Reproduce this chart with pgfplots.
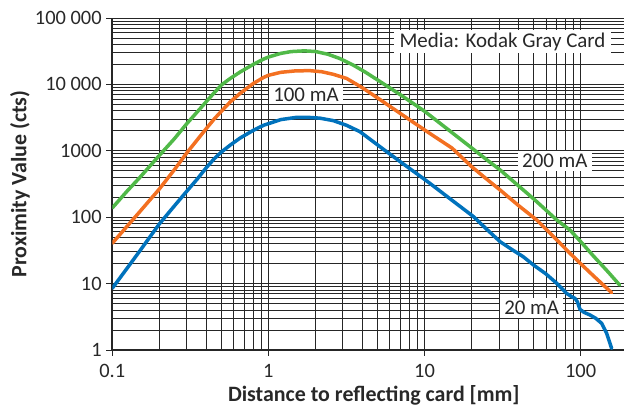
\documentclass[border=0pt]{standalone}
\usepackage{pgfplots}
\pgfplotsset{compat=1.18}
\usepackage{fontspec}
\setmainfont{Carlito}
\definecolor{cgreen}{RGB}{80,185,72}
\definecolor{corange}{RGB}{243,112,33}
\definecolor{cblue}{RGB}{0,114,188}
\definecolor{txt}{RGB}{40,40,40}
\begin{document}
\fontsize{21}{25}\selectfont
\begin{tikzpicture}
\begin{axis}[
  scale only axis,
  width=511.8bp, height=332bp,
  xmode=log, ymode=log,
  xmin=0.1, xmax=190, ymin=1, ymax=100000,
  axis x line=bottom, axis y line=left,
  axis line style={-, line width=1.6bp, black!85},
  xtick={0.1,1,10,100}, xticklabels={0.1,1,10,100},
  ytick={1,10,100,1000,10000,100000},
  yticklabels={1,10,100,1000,10 000,100 000},
  minor xtick={0.2,0.3,0.4,0.5,0.6,0.7,0.8,0.9,2,3,4,5,6,7,8,9,20,30,40,50,60,70,80,90},
  minor ytick={2,3,4,5,6,7,8,9,20,30,40,50,60,70,80,90,200,300,400,500,600,700,800,900,2000,3000,4000,5000,6000,7000,8000,9000,20000,30000,40000,50000,60000,70000,80000,90000},
  grid=both,
  major grid style={line width=0.9bp, black!85},
  minor grid style={line width=0.9bp, black!85},
  tick align=outside,
  major tick length=6bp, minor tick length=0pt,
  tick style={line width=0.9bp, black!85},
  ticklabel style={font=\fontsize{20.5}{24}\selectfont, text=txt},
  yticklabel style={inner sep=0pt, xshift=-4.5bp},
  xticklabel style={inner sep=0pt, yshift=-8bp},
  xlabel={\bfseries Distance to reflecting card [mm]},
  ylabel={\bfseries Proximity Value (cts)},
  every axis x label/.style={at={(axis description cs:0.511,-0.1566)}, anchor=base, text=txt, font=\fontsize{22}{26}\selectfont},
  every axis y label/.style={at={(axis description cs:-0.168,0.5)}, anchor=base, rotate=90, text=txt, font=\fontsize{22}{26}\selectfont},
  every axis plot/.append style={line width=3.5bp, line join=round, line cap=round},
]
\addplot[cgreen] coordinates {
(0.1,138)(0.125,250)(0.15,396)(0.2,850)(0.25,1520)(0.3,2560)(0.35,3850)(0.4,5500)(0.45,7500)(0.5,9800)(0.57,12300)(0.66,15400)(0.8,20000)(0.93,24000)(1.0,25800)(1.2,29300)(1.4,31200)(1.7,32000)(2.0,31300)(2.4,28500)(2.87,24500)(3.5,19500)(4.2,15200)(5.2,11000)(7,7000)(8.5,5130)(10,3950)(12,2830)(15,1880)(20,1110)(25,735)(30.5,515)(40,297)(50,189)(60,128)(70.3,91)(85.5,64)(100,43)(120,26.5)(150,15)(178,9.5)
};
\addplot[corange] coordinates {
(0.1,40.5)(0.125,74)(0.15,121)(0.2,265)(0.25,520)(0.3,930)(0.35,1460)(0.4,2160)(0.45,3020)(0.5,3950)(0.57,5450)(0.66,7350)(0.8,10300)(0.93,12700)(1.0,13700)(1.2,15200)(1.5,16000)(1.85,16100)(2.2,15500)(2.6,14200)(3.17,12300)(4,8900)(5.19,5900)(7,3650)(9.35,2300)(10.8,1830)(15,1100)(20,580)(25,375)(30.5,257)(40,150)(52.3,91)(70,46)(85.5,28.6)(100,20)(120,13.3)(140,9.5)(158,7.3)
};
\addplot[cblue] coordinates {
(0.1,8.5)(0.125,17.3)(0.15,31)(0.2,79)(0.25,148)(0.3,246)(0.35,375)(0.4,556)(0.45,760)(0.5,960)(0.57,1220)(0.66,1560)(0.8,2030)(0.93,2420)(1.2,2950)(1.5,3180)(1.76,3200)(2.14,3100)(2.6,2850)(3.17,2420)(3.86,1940)(4.5,1480)(5.19,1150)(7,684)(9.8,385)(10.8,325)(15,180)(20.6,102)(25,66)(30.5,42.8)(36,33)(42.9,25.4)(50,19)(60,14)(70.3,10.1)(81.5,7.1)(87.7,6.35)(92,6)(95.3,5.34)(99.1,4.1)(105,3.7)(114.8,3.37)(125,3)(136.5,2.52)(146.9,1.78)(158,1.06)
};
\node[fill=white, text=txt, inner xsep=6bp, inner ysep=3bp] at (axis cs:31.6,44300) {Media: Kodak Gray Card};
\node[fill=white, text=txt, inner xsep=4bp, inner ysep=3bp] at (axis cs:1.74,7050) {100 mA};
\node[fill=white, text=txt, inner xsep=4bp, inner ysep=3bp] at (axis cs:68.4,704) {200 mA};
\node[fill=white, text=txt, inner xsep=4bp, inner ysep=3bp] at (axis cs:48.6,4.25) {20 mA};
\end{axis}
\pgfresetboundingbox
\path[use as bounding box] (-112.3bp,-62bp) rectangle (512.7bp,350bp);
\end{tikzpicture}
\end{document}
